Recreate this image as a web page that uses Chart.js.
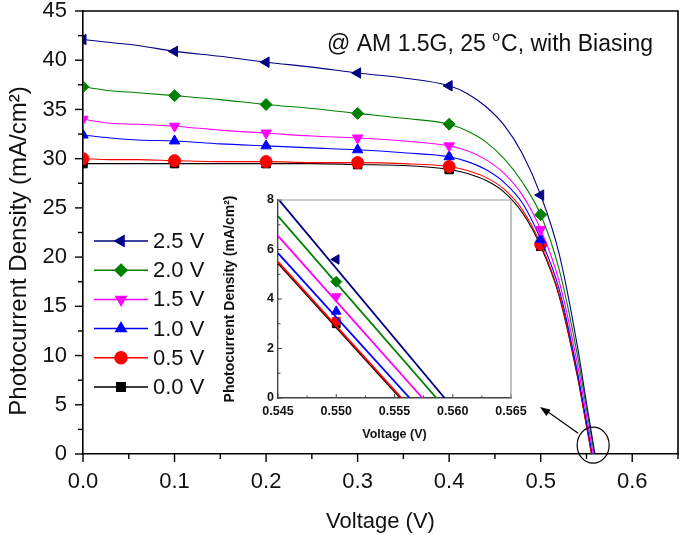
<!DOCTYPE html>
<html>
<head>
<meta charset="utf-8">
<script src="https://cdn.jsdelivr.net/npm/chart.js@4/dist/chart.umd.min.js"></script>
<style>
  html, body { margin: 0; padding: 0; background: #fff; }
  #wrap { position: relative; width: 685px; height: 535px; }
  #main { position: absolute; left: 0; top: 0; }
  #inset { position: absolute; left: 222px; top: 188px; }
</style>
</head>
<body>
<div id="wrap">
  <canvas id="main" width="685" height="535"></canvas>
  <canvas id="inset" width="308" height="254"></canvas>
</div>
<script>
// bias labels, top to bottom in the legend
const biasLabels = ["2.5 V", "2.0 V", "1.5 V", "1.0 V", "0.5 V", "0.0 V"];
const colors = ["#000080", "#008000", "#ff00ff", "#0000ff", "#ff0000", "#000000"];
const markers = ["triangle", "rectRot", "triangle", "triangle", "circle", "rect"];
const markerRot = [-90, 0, 180, 0, 0, 0];

// main J-V curves (voltage in V, current density in mA/cm2)
const volts = [0, 0.03, 0.06, 0.1, 0.15, 0.2, 0.25, 0.3, 0.35, 0.4, 0.42, 0.44, 0.46, 0.48, 0.5, 0.52, 0.54, 0.55];
const j25 = [42.1, 41.8, 41.5, 40.9, 40.4, 39.8, 39.3, 38.7, 38.2, 37.4, 36.6, 35.3, 33.4, 30.5, 26.3, 20.4, 11.0, 5.2];
const j20 = [37.3, 36.9, 36.7, 36.4, 36.0, 35.5, 35.1, 34.6, 34.1, 33.5, 32.8, 31.7, 30.0, 27.6, 24.3, 18.8, 10.1, 4.65];
const j15 = [34.0, 33.6, 33.5, 33.3, 32.9, 32.6, 32.3, 32.1, 31.8, 31.3, 30.8, 29.9, 28.5, 26.3, 22.8, 17.6, 9.2, 3.9];
const j10 = [32.4, 32.1, 31.9, 31.8, 31.5, 31.3, 31.1, 30.9, 30.6, 30.2, 29.7, 28.9, 27.6, 25.5, 21.8, 16.8, 8.4, 3.26];
const j05 = [30.0, 29.9, 29.9, 29.8, 29.7, 29.7, 29.6, 29.6, 29.5, 29.2, 28.8, 28.1, 26.9, 24.8, 21.3, 16.3, 8.1, 2.9];
const j00 = [29.5, 29.5, 29.5, 29.5, 29.5, 29.5, 29.5, 29.4, 29.3, 28.9, 28.5, 27.8, 26.6, 24.5, 21.1, 16.1, 7.9, 2.85];
const currents = [j25, j20, j15, j10, j05, j00];
const vocs = [0.5593, 0.5586, 0.5574, 0.5563, 0.5556, 0.5555];
const markerVolts = [0, 0.1, 0.2, 0.3, 0.4, 0.5];

// inset (zoom near Voc)
const insetStartV = 0.545;
const insetStartJ = [8.05, 7.35, 6.55, 5.85, 5.5, 5.45];
const insetMarkV = 0.55;
const insetMarkJ = [5.6, 4.7, 4.1, 3.5, 3.1, 3.0];

const FONT = "'Liberation Sans', Arial, sans-serif";

function isMajor(v, step) {
  const r = v / step;
  return Math.abs(r - Math.round(r)) < 1e-6;
}

// ticks with major/minor lengths, drawn from the scale's own tick list
function tickPlugin(cfg) {
  return {
    id: "ticks_" + cfg.id,
    afterDraw(chart) {
      const ctx = chart.ctx;
      ctx.save();
      ctx.strokeStyle = cfg.color;
      ctx.lineWidth = cfg.width;
      const xs = chart.scales.x, ys = chart.scales.y;
      const dir = cfg.inward ? -1 : 1;
      xs.ticks.forEach((t) => {
        const px = xs.getPixelForValue(t.value);
        const len = isMajor(t.value - cfg.xBase, cfg.xMajor) ? cfg.major : cfg.minor;
        ctx.beginPath();
        ctx.moveTo(px, ys.bottom);
        ctx.lineTo(px, ys.bottom + dir * len);
        ctx.stroke();
      });
      ys.ticks.forEach((t) => {
        const py = ys.getPixelForValue(t.value);
        const len = isMajor(t.value, cfg.yMajor) ? cfg.major : cfg.minor;
        ctx.beginPath();
        ctx.moveTo(xs.left, py);
        ctx.lineTo(xs.left - dir * len, py);
        ctx.stroke();
      });
      const a = chart.chartArea;
      ctx.strokeStyle = cfg.boxColor;
      ctx.lineWidth = cfg.boxWidth;
      ctx.beginPath();
      ctx.moveTo(a.left, a.top);
      ctx.lineTo(a.right, a.top);
      ctx.lineTo(a.right, a.bottom);
      ctx.stroke();
      ctx.restore();
    },
  };
}

const legendPlugin = {
  id: "sideLegend",
  afterDraw(chart) {
    const ctx = chart.ctx;
    ctx.save();
    biasLabels.forEach((lab, i) => {
      const y = 241 + i * 29.2;
      ctx.strokeStyle = colors[i];
      ctx.fillStyle = colors[i];
      ctx.lineWidth = 1.5;
      ctx.beginPath();
      ctx.moveTo(94, y);
      ctx.lineTo(148, y);
      ctx.stroke();
      Chart.helpers.drawPoint(ctx, { pointStyle: markers[i], rotation: markerRot[i], radius: 6, borderWidth: 1 }, 121, y);
      ctx.fillStyle = "#111";
      ctx.font = "22px " + FONT;
      ctx.textBaseline = "middle";
      ctx.textAlign = "left";
      ctx.fillText(lab, 153, y + 1);
    });
    ctx.restore();
  },
};

const notePlugin = {
  id: "notes",
  afterDraw(chart) {
    const ctx = chart.ctx;
    ctx.save();
    // y axis title (sits a little below the plot centre in the original)
    ctx.save();
    ctx.translate(19, 251);
    ctx.rotate(-Math.PI / 2);
    ctx.fillStyle = "#111";
    ctx.font = "24px " + FONT;
    ctx.textAlign = "center";
    ctx.textBaseline = "middle";
    ctx.fillText("Photocurrent Density (mA/cm²)", 0, 0);
    ctx.restore();

    // condition text
    ctx.fillStyle = "#111";
    ctx.textBaseline = "alphabetic";
    ctx.textAlign = "left";
    ctx.font = "23px " + FONT;
    let x = 327;
    const base = 51;
    const p1 = "@ AM 1.5G, 25 ";
    ctx.fillText(p1, x, base);
    x += ctx.measureText(p1).width;
    ctx.font = "14px " + FONT;
    ctx.fillText("o", x, base - 10);
    x += ctx.measureText("o").width + 1;
    ctx.font = "23px " + FONT;
    ctx.fillText("C, with Biasing", x, base);

    // ellipse around Voc and arrow to inset
    const xs = chart.scales.x, ys = chart.scales.y;
    const cx = xs.getPixelForValue(0.5573), cy = ys.getPixelForValue(0.9);
    ctx.strokeStyle = "#000";
    ctx.lineWidth = 1.2;
    ctx.beginPath();
    ctx.ellipse(cx, cy, 16, 18, 0, 0, Math.PI * 2);
    ctx.stroke();
    const tx = 540, ty = 407, fx = cx - 15, fy = cy - 12;
    ctx.beginPath();
    ctx.moveTo(fx, fy);
    ctx.lineTo(tx + 6, ty + 3.5);
    ctx.stroke();
    const ang = Math.atan2(ty - fy, tx - fx);
    ctx.fillStyle = "#000";
    ctx.beginPath();
    ctx.moveTo(tx, ty);
    ctx.lineTo(tx - 11 * Math.cos(ang - 0.35), ty - 11 * Math.sin(ang - 0.35));
    ctx.lineTo(tx - 11 * Math.cos(ang + 0.35), ty - 11 * Math.sin(ang + 0.35));
    ctx.closePath();
    ctx.fill();
    ctx.restore();
  },
};

const mainSets = currents.map((arr, i) => ({
  label: biasLabels[i],
  data: volts.map((v, k) => ({ x: v, y: arr[k] })).concat([{ x: vocs[i], y: 0 }]),
  borderColor: colors[i],
  backgroundColor: colors[i],
  borderWidth: 1.1,
  pointStyle: markers[i],
  rotation: markerRot[i],
  pointRadius: (c) => (c.raw && markerVolts.includes(c.raw.x) ? 6 : 0),
  pointBorderWidth: 1,
  cubicInterpolationMode: "monotone",
}));

new Chart(document.getElementById("main"), {
  type: "line",
  data: { datasets: mainSets },
  options: {
    responsive: false,
    animation: false,
    layout: { padding: { left: 0, right: 0, top: 11, bottom: 0 } },
    plugins: { legend: { display: false }, tooltip: { enabled: false } },
    scales: {
      x: {
        type: "linear",
        min: 0,
        max: 0.65,
        afterFit: (s) => { s.height = 81; s.paddingLeft = 0; s.paddingRight = 0; },
        grid: { display: true, drawOnChartArea: false, drawTicks: false },
        border: { display: true, color: "#000", width: 1.6 },
        ticks: {
          stepSize: 0.05,
          autoSkip: false,
          maxRotation: 0,
          padding: 15,
          color: "#111",
          font: { family: FONT, size: 22 },
          callback: (v) => (isMajor(v, 0.1) ? v.toFixed(1) : ""),
        },
        title: {
          display: true,
          text: "Voltage (V)",
          color: "#111",
          font: { family: FONT, size: 22 },
          padding: { top: 0, bottom: 0 },
        },
      },
      y: {
        min: 0,
        max: 45,
        afterFit: (s) => { s.width = 83; s.paddingTop = 0; s.paddingBottom = 0; },
        grid: { display: true, drawOnChartArea: false, drawTicks: false },
        border: { display: true, color: "#000", width: 1.6 },
        ticks: {
          stepSize: 2.5,
          autoSkip: false,
          padding: 16,
          color: "#111",
          font: { family: FONT, size: 22 },
          callback: (v) => (isMajor(v, 5) ? String(v) : ""),
        },
        title: { display: false },
      },
    },
  },
  plugins: [
    tickPlugin({ id: "main", xBase: 0, xMajor: 0.1, yMajor: 5, major: 8, minor: 5, inward: false, color: "#000", width: 1.4, boxColor: "#000", boxWidth: 1.6 }),
    legendPlugin,
    notePlugin,
  ],
});

// inset: straight segments from 0.545 V down to Voc, plus one marker at 0.550 V
const insetLines = insetStartJ.map((j, i) => ({
  data: [{ x: insetStartV, y: j }, { x: vocs[i], y: 0 }],
  borderColor: colors[i],
  borderWidth: 1.8,
  pointRadius: 0,
  tension: 0,
}));
const insetMarks = insetMarkJ.map((j, i) => ({
  data: [{ x: insetMarkV, y: j }],
  borderColor: colors[i],
  backgroundColor: colors[i],
  showLine: false,
  pointStyle: i === 4 ? "rect" : markers[i],
  rotation: markerRot[i],
  pointRadius: 5.5,
  pointBorderWidth: 1,
}));

new Chart(document.getElementById("inset"), {
  type: "line",
  data: { datasets: insetLines.concat(insetMarks) },
  options: {
    responsive: false,
    animation: false,
    layout: { padding: { left: 0, right: 19, top: 12, bottom: 0 } },
    plugins: { legend: { display: false }, tooltip: { enabled: false } },
    scales: {
      x: {
        type: "linear",
        min: 0.545,
        max: 0.565,
        afterFit: (s) => { s.height = 44; s.paddingLeft = 0; s.paddingRight = 0; },
        grid: { display: true, drawOnChartArea: false, drawTicks: false },
        border: { display: true, color: "#444", width: 1.4 },
        ticks: {
          stepSize: 0.0025,
          autoSkip: false,
          maxRotation: 0,
          padding: 6,
          color: "#111",
          font: { family: FONT, size: 12.5, weight: "bold" },
          callback: (v) => (isMajor(v - 0.545, 0.005) ? v.toFixed(3) : ""),
        },
        title: {
          display: true,
          text: "Voltage (V)",
          color: "#111",
          font: { family: FONT, size: 12.5, weight: "bold" },
          padding: { top: 0, bottom: 0 },
        },
      },
      y: {
        min: 0,
        max: 8,
        afterFit: (s) => { s.width = 56; s.paddingTop = 0; s.paddingBottom = 0; },
        grid: { display: true, drawOnChartArea: false, drawTicks: false },
        border: { display: true, color: "#444", width: 1.4 },
        ticks: {
          stepSize: 1,
          autoSkip: false,
          padding: 4,
          color: "#111",
          font: { family: FONT, size: 12.5, weight: "bold" },
          callback: (v) => (isMajor(v, 2) ? String(v) : ""),
        },
        title: {
          display: true,
          text: "Photocurrent Density (mA/cm²)",
          color: "#111",
          font: { family: FONT, size: 14, weight: "bold" },
          padding: { top: 0, bottom: 2 },
        },
      },
    },
  },
  plugins: [
    tickPlugin({ id: "inset", xBase: 0.545, xMajor: 0.005, yMajor: 2, major: 4, minor: 2.5, inward: true, color: "#444", width: 1, boxColor: "#999", boxWidth: 1.2 }),
  ],
});
</script>
</body>
</html>
